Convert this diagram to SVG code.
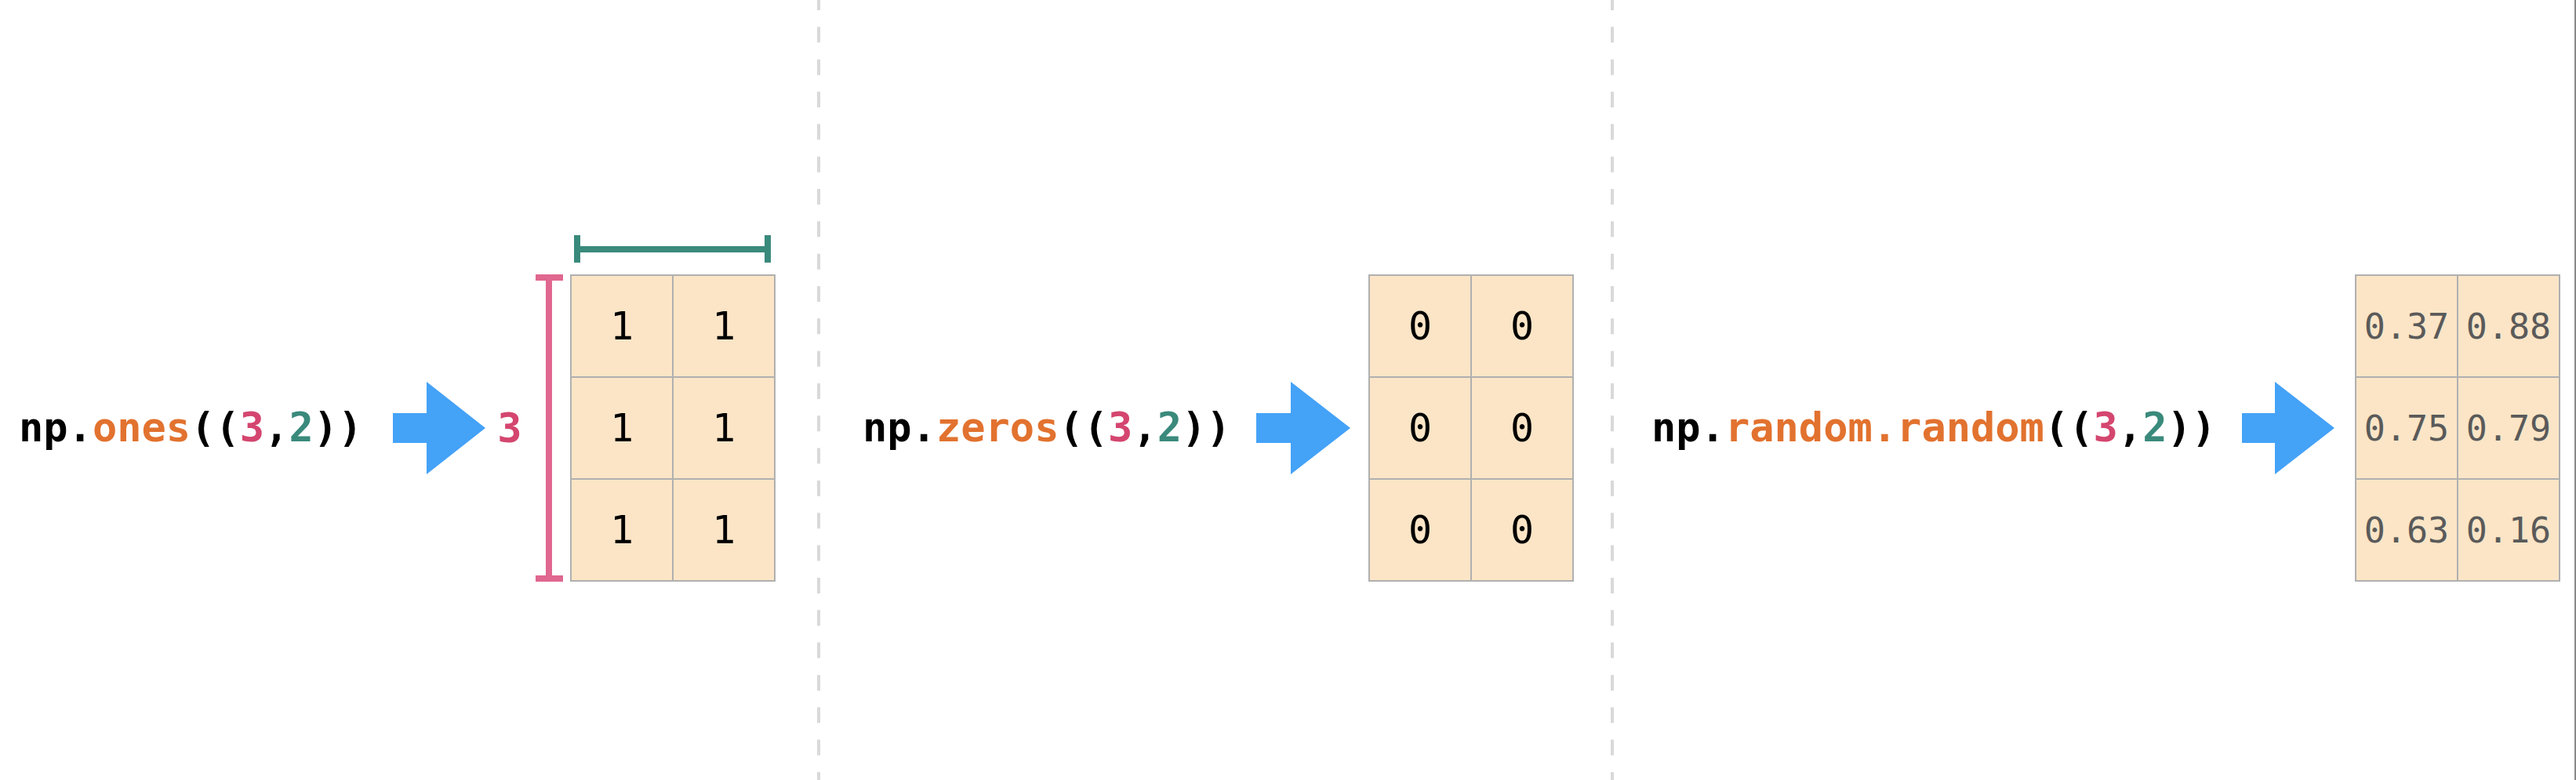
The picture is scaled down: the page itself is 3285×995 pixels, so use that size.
<svg xmlns="http://www.w3.org/2000/svg" width="3285" height="995" viewBox="0 0 3285 995">
<style>
.code{font-family:"DejaVu Sans Mono","Liberation Mono",monospace;font-weight:bold;font-size:52px;fill:#000}
.fn{fill:#E2722F}
.pk{fill:#D4466F}
.tl{fill:#3A8A7C}
.cell{fill:#FBE5C6;stroke:#B0B0B0;stroke-width:2}
.v{font-family:"DejaVu Sans Mono","Liberation Mono",monospace;font-size:50px;fill:#000;text-anchor:middle}
.r{font-family:"DejaVu Sans Mono","Liberation Mono",monospace;font-size:45px;fill:#5A5A5A;text-anchor:middle}
.arrow{fill:#44A2F7}
.sep{stroke:#D9D9D9;stroke-width:4;stroke-dasharray:20 21.33}
</style>
<rect width="3285" height="995" fill="#fff"/>
<g id="separators">
<line class="sep" x1="1044" y1="-7" x2="1044" y2="1000"/>
<line class="sep" x1="2056" y1="-7" x2="2056" y2="1000"/>
<line x1="3284" y1="0" x2="3284" y2="995" stroke="#888" stroke-width="2"/>
</g>
<g id="code-ones">
<text class="code" x="24" y="563">np.<tspan class="fn">ones</tspan>((<tspan class="pk">3</tspan>,<tspan class="tl">2</tspan>))</text>
</g>
<g id="code-zeros">
<text class="code" x="1100" y="563">np.<tspan class="fn">zeros</tspan>((<tspan class="pk">3</tspan>,<tspan class="tl">2</tspan>))</text>
</g>
<g id="code-random">
<text class="code" x="2106" y="563">np.<tspan class="fn">random.random</tspan>((<tspan class="pk">3</tspan>,<tspan class="tl">2</tspan>))</text>
</g>
<g id="connectors">
<polygon class="arrow" points="501,527 544,527 544,487 619,546 544,605 544,565 501,565"/>
<polygon class="arrow" points="1602,527 1646,527 1646,487 1722,546 1646,605 1646,565 1602,565"/>
<polygon class="arrow" points="2859,527 2901,527 2901,487 2977,546 2901,605 2901,565 2859,565"/>
</g>
<g id="dim-rows">
<text class="code pk" x="650" y="564" text-anchor="middle">3</text>
<rect x="683" y="350" width="35" height="8" fill="#E0678F"/>
<rect x="683" y="734" width="35" height="8" fill="#E0678F"/>
<rect x="696" y="354" width="8" height="384" fill="#E0678F"/>
</g>
<g id="dim-cols">
<rect x="732" y="300" width="8" height="35" fill="#3A8A7C"/>
<rect x="975" y="300" width="8" height="35" fill="#3A8A7C"/>
<rect x="736" y="314" width="243" height="8" fill="#3A8A7C"/>
</g>
<g id="array-ones">
<rect class="cell" x="728" y="351" width="130" height="130"/>
<rect class="cell" x="858" y="351" width="130" height="130"/>
<rect class="cell" x="728" y="481" width="130" height="130"/>
<rect class="cell" x="858" y="481" width="130" height="130"/>
<rect class="cell" x="728" y="611" width="130" height="130"/>
<rect class="cell" x="858" y="611" width="130" height="130"/>
<text class="v" x="793" y="433">1</text><text class="v" x="923" y="433">1</text>
<text class="v" x="793" y="563">1</text><text class="v" x="923" y="563">1</text>
<text class="v" x="793" y="693">1</text><text class="v" x="923" y="693">1</text>
</g>
<g id="array-zeros">
<rect class="cell" x="1746" y="351" width="130" height="130"/>
<rect class="cell" x="1876" y="351" width="130" height="130"/>
<rect class="cell" x="1746" y="481" width="130" height="130"/>
<rect class="cell" x="1876" y="481" width="130" height="130"/>
<rect class="cell" x="1746" y="611" width="130" height="130"/>
<rect class="cell" x="1876" y="611" width="130" height="130"/>
<text class="v" x="1811" y="433">0</text><text class="v" x="1941" y="433">0</text>
<text class="v" x="1811" y="563">0</text><text class="v" x="1941" y="563">0</text>
<text class="v" x="1811" y="693">0</text><text class="v" x="1941" y="693">0</text>
</g>
<g id="array-random">
<rect class="cell" x="3004" y="351" width="130" height="130"/>
<rect class="cell" x="3134" y="351" width="130" height="130"/>
<rect class="cell" x="3004" y="481" width="130" height="130"/>
<rect class="cell" x="3134" y="481" width="130" height="130"/>
<rect class="cell" x="3004" y="611" width="130" height="130"/>
<rect class="cell" x="3134" y="611" width="130" height="130"/>
<text class="r" x="3069" y="432">0.37</text><text class="r" x="3199" y="432">0.88</text>
<text class="r" x="3069" y="562">0.75</text><text class="r" x="3199" y="562">0.79</text>
<text class="r" x="3069" y="692">0.63</text><text class="r" x="3199" y="692">0.16</text>
</g>
</svg>
